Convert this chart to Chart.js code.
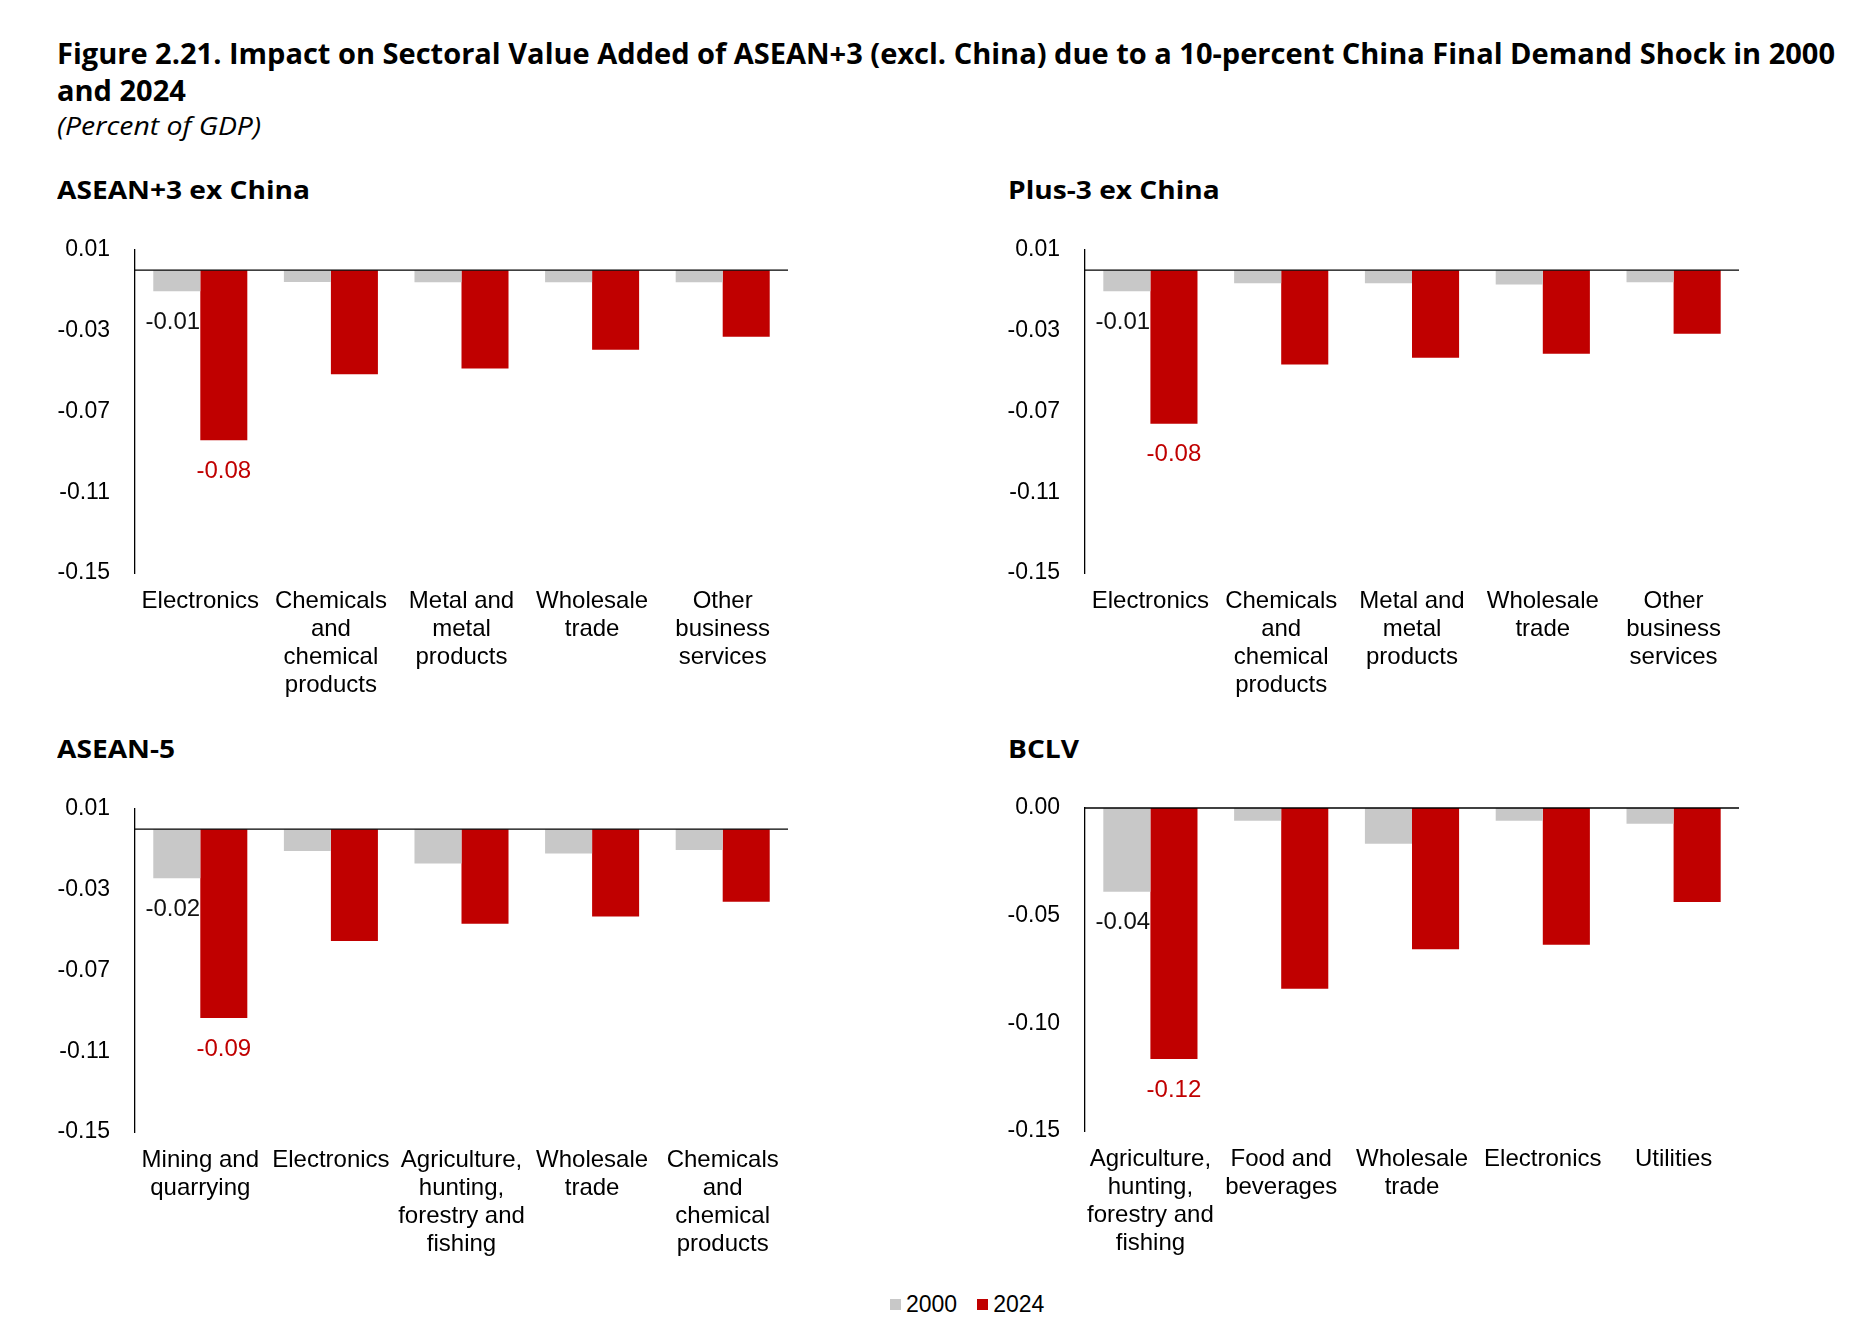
<!DOCTYPE html>
<html>
<head>
<meta charset="utf-8">
<script src="https://cdn.jsdelivr.net/npm/chart.js@4.4.0/dist/chart.umd.min.js"></script>
<style>
  html, body { margin: 0; padding: 0; background: #fff; }
  body { width: 1860px; height: 1335px; position: relative; overflow: hidden; }
  .t { position: absolute; white-space: nowrap; font-family: "Open Sans", sans-serif; color: #000; transform-origin: 0 50%; }
  .title { font-size: 29px; line-height: 29px; font-weight: 700; left: 57px; }
  .sub { font-size: 25px; line-height: 25px; font-style: italic; left: 57px; top: 113px; }
  .ptitle { font-size: 25.6px; line-height: 25.6px; font-weight: 700; }
  .box { position: absolute; }
  #legend { position: absolute; left: 890px; top: 1290px; height: 28px; display: flex; align-items: center;
            font-family: "Liberation Sans", Arial, sans-serif; font-size: 23px; color: #000; }
  #legend .sw { width: 11px; height: 11px; margin-right: 5px; }
  #legend .item { display: flex; align-items: center; margin-right: 20px; }
</style>
</head>
<body>
<div class="t title" id="tl1" style="top:37.5px">Figure 2.21. Impact on Sectoral Value Added of ASEAN+3 (excl. China) due to a 10-percent China Final Demand Shock in 2000</div>
<div class="t title" id="tl2" style="top:75px">and 2024</div>
<div class="t sub" id="sub">(Percent of GDP)</div>

<div class="t ptitle" id="pt1" style="left:57px;top:177.3px">ASEAN+3 ex China</div>
<div class="t ptitle" id="pt2" style="left:1008px;top:177.3px">Plus-3 ex China</div>
<div class="t ptitle" id="pt3" style="left:57px;top:735.8px">ASEAN-5</div>
<div class="t ptitle" id="pt4" style="left:1008px;top:735.8px">BCLV</div>

<div class="box" style="left:40px;top:236px;width:748px;height:464px"><canvas id="c1"></canvas></div>
<div class="box" style="left:990px;top:236px;width:749px;height:464px"><canvas id="c2"></canvas></div>
<div class="box" style="left:40px;top:794.5px;width:748px;height:464px"><canvas id="c3"></canvas></div>
<div class="box" style="left:990px;top:794px;width:749px;height:464px"><canvas id="c4"></canvas></div>

<div id="legend"></div>

<script>
// series
const seriesNames = ['2000', '2024'];
const seriesColors = ['#c8c8c8', '#c00000'];
const labelColors = ['#111111', '#c00000'];

// ASEAN+3 ex China
const asean3Categories = [['Electronics'], ['Chemicals', 'and', 'chemical', 'products'], ['Metal and', 'metal', 'products'], ['Wholesale', 'trade'], ['Other', 'business', 'services']];
const asean3_2000 = [-0.0104, -0.0058, -0.0060, -0.0060, -0.0060];
const asean3_2024 = [-0.0842, -0.0516, -0.0487, -0.0394, -0.0330];

// Plus-3 ex China
const plus3Categories = [['Electronics'], ['Chemicals', 'and', 'chemical', 'products'], ['Metal and', 'metal', 'products'], ['Wholesale', 'trade'], ['Other', 'business', 'services']];
const plus3_2000 = [-0.0104, -0.0065, -0.0065, -0.0071, -0.0060];
const plus3_2024 = [-0.0761, -0.0467, -0.0434, -0.0414, -0.0315];

// ASEAN-5
const asean5Categories = [['Mining and', 'quarrying'], ['Electronics'], ['Agriculture,', 'hunting,', 'forestry and', 'fishing'], ['Wholesale', 'trade'], ['Chemicals', 'and', 'chemical', 'products']];
const asean5_2000 = [-0.0243, -0.0108, -0.0170, -0.0121, -0.0103];
const asean5_2024 = [-0.0935, -0.0554, -0.0468, -0.0433, -0.0359];

// BCLV
const bclvCategories = [['Agriculture,', 'hunting,', 'forestry and', 'fishing'], ['Food and', 'beverages'], ['Wholesale', 'trade'], ['Electronics'], ['Utilities']];
const bclv_2000 = [-0.0389, -0.0059, -0.0166, -0.0059, -0.0073];
const bclv_2024 = [-0.1166, -0.0839, -0.0656, -0.0635, -0.0437];

// y tick labels
const ticksA = [0.01, -0.03, -0.07, -0.11, -0.15];
const ticksB = [0.00, -0.05, -0.10, -0.15];

// only the first category carries value labels
const labelledIndex = [0];

const fontFamily = '"Liberation Sans", Arial, sans-serif';

const zeroAndLabels = {
    id: 'zeroAndLabels',
    afterDatasetsDraw(chart) {
        const { ctx, chartArea } = chart;
        const y0 = chart.scales.y.getPixelForValue(0);
        ctx.save();
        ctx.strokeStyle = '#000';
        ctx.lineWidth = 1.3;
        ctx.beginPath();
        ctx.moveTo(chartArea.left, y0);
        ctx.lineTo(chartArea.right, y0);
        ctx.stroke();

        ctx.font = '24px ' + fontFamily;
        ctx.textAlign = 'center';
        ctx.textBaseline = 'middle';
        chart.data.datasets.forEach((ds, di) => {
            const meta = chart.getDatasetMeta(di);
            labelledIndex.forEach(i => {
                const bar = meta.data[i];
                ctx.fillStyle = labelColors[di];
                const dx = di === 0 ? -4 : 0;
                ctx.fillText(ds.data[i].toFixed(2), bar.x + dx, bar.y + 31);
            });
        });
        ctx.restore();
    }
};

function makeChart(id, categories, d2000, d2024, tickValues) {
    const ctx = document.getElementById(id).getContext('2d');
    return new Chart(ctx, {
        type: 'bar',
        data: {
            labels: categories,
            datasets: [
                { label: seriesNames[0], data: d2000, backgroundColor: seriesColors[0], borderWidth: 0 },
                { label: seriesNames[1], data: d2024, backgroundColor: seriesColors[1], borderWidth: 0 }
            ]
        },
        options: {
            responsive: true,
            maintainAspectRatio: false,
            animation: false,
            events: [],
            layout: { padding: 0 },
            datasets: { bar: { categoryPercentage: 0.72, barPercentage: 1.0 } },
            plugins: { legend: { display: false }, tooltip: { enabled: false } },
            scales: {
                x: {
                    grid: { display: false, drawTicks: false },
                    border: { display: false },
                    afterFit: (scale) => { scale.height = 127; scale.paddingLeft = 0; scale.paddingRight = 0; },
                    ticks: {
                        autoSkip: false, maxRotation: 0, minRotation: 0, padding: 14, color: '#000',
                        font: { family: fontFamily, size: 24, lineHeight: 1.17 }
                    }
                },
                y: {
                    min: Math.min(...tickValues),
                    max: Math.max(...tickValues),
                    afterBuildTicks: (scale) => { scale.ticks = tickValues.map(v => ({ value: v })); },
                    afterFit: (scale) => { scale.width = 95; scale.paddingTop = 14; scale.paddingBottom = 0; },
                    grid: { display: false, drawTicks: false },
                    border: { display: true, color: '#000', width: 1.3 },
                    ticks: {
                        padding: 25, color: '#000',
                        font: { family: fontFamily, size: 23, lineHeight: 1.2 },
                        callback: (v) => Number(v).toFixed(2)
                    }
                }
            }
        },
        plugins: [zeroAndLabels]
    });
}

makeChart('c1', asean3Categories, asean3_2000, asean3_2024, ticksA);
makeChart('c2', plus3Categories, plus3_2000, plus3_2024, ticksA);
makeChart('c3', asean5Categories, asean5_2000, asean5_2024, ticksA);
makeChart('c4', bclvCategories, bclv_2000, bclv_2024, ticksB);

// legend
const legend = document.getElementById('legend');
seriesNames.forEach((name, i) => {
    const item = document.createElement('div');
    item.className = 'item';
    const sw = document.createElement('div');
    sw.className = 'sw';
    sw.style.background = seriesColors[i];
    const tx = document.createElement('span');
    tx.textContent = name;
    item.appendChild(sw);
    item.appendChild(tx);
    legend.appendChild(item);
});

// squeeze the heading text to the reference widths (reference uses a narrower face)
function fitWidth(id, target) {
    const el = document.getElementById(id);
    const w = el.getBoundingClientRect().width;
    const s = target / w;
    el.style.transform = 'scaleX(' + s + ')';
    return s;
}
function applyScale(id, s) { document.getElementById(id).style.transform = 'scaleX(' + s + ')'; }
function fitAll() {
    ['tl1', 'tl2', 'sub', 'pt1', 'pt2', 'pt3', 'pt4'].forEach(id => document.getElementById(id).style.transform = 'none');
    const s1 = fitWidth('tl1', 1778);
    applyScale('tl2', s1);
    fitWidth('sub', 204);
    const s2 = fitWidth('pt1', 253);
    ['pt2', 'pt3', 'pt4'].forEach(id => applyScale(id, s2));
}
fitAll();
if (document.fonts && document.fonts.ready) document.fonts.ready.then(fitAll);
</script>
</body>
</html>
